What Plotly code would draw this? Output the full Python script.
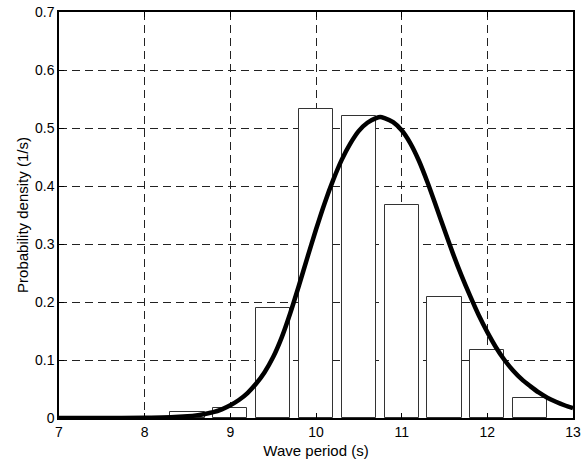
import plotly.graph_objects as go

# Histogram bars (bin centres, density)
bar_centers = [8.5, 9.0, 9.5, 10.0, 10.5, 11.0, 11.5, 12.0, 12.5]
bar_density = [0.010, 0.017, 0.190, 0.533, 0.520, 0.367, 0.208, 0.118, 0.034]
bar_width = 0.4

# Fitted density curve
curve_t = [7.0, 7.5, 8.0, 8.2, 8.4, 8.5, 8.6, 8.7, 8.8, 8.9, 9.0, 9.1, 9.2, 9.3,
           9.4, 9.5, 9.6, 9.7, 9.8, 9.9, 10.0, 10.1, 10.2, 10.3, 10.4, 10.5,
           10.6, 10.7, 10.75, 10.8, 10.9, 11.0, 11.1, 11.2, 11.3, 11.4, 11.5,
           11.6, 11.7, 11.8, 11.9, 12.0, 12.1, 12.2, 12.3, 12.4, 12.5, 12.6,
           12.7, 12.8, 12.9, 13.0]
curve_p = [0.0, 0.0001, 0.0003, 0.0008, 0.002, 0.003, 0.0045, 0.007, 0.010,
           0.015, 0.022, 0.031, 0.043, 0.059, 0.079, 0.105, 0.139, 0.181, 0.228,
           0.277, 0.325, 0.370, 0.410, 0.445, 0.473, 0.495, 0.509, 0.517, 0.519,
           0.517, 0.510, 0.496, 0.474, 0.444, 0.407, 0.366, 0.324, 0.283, 0.245,
           0.210, 0.177, 0.148, 0.122, 0.100, 0.082, 0.067, 0.055, 0.044, 0.035,
           0.028, 0.022, 0.017]

x_ticks = [7, 8, 9, 10, 11, 12, 13]
y_ticks = [0, 0.1, 0.2, 0.3, 0.4, 0.5, 0.6, 0.7]
y_labels = ["0", "0.1", "0.2", "0.3", "0.4", "0.5", "0.6", "0.7"]

fig = go.Figure()
fig.add_trace(go.Bar(x=bar_centers, y=bar_density, width=bar_width,
                     marker=dict(color="white", line=dict(color="#333333", width=1)),
                     showlegend=False))
fig.add_trace(go.Scatter(x=curve_t, y=curve_p, mode="lines",
                         line=dict(color="black", width=4.5, shape="spline", smoothing=0.8),
                         showlegend=False))

axis_common = dict(showline=True, linecolor="black", linewidth=1.5, mirror="ticks",
                   ticks="inside", ticklen=5, tickcolor="black",
                   showgrid=True, gridcolor="#222222", gridwidth=1, griddash="8px,5px",
                   zeroline=False, automargin=False,
                   tickfont=dict(family="Liberation Sans, Arial", size=14, color="black"))

fig.update_xaxes(range=[7, 13], tickvals=x_ticks, ticktext=[str(v) for v in x_ticks],
                 title=dict(text="Wave period (s)", standoff=7,
                            font=dict(family="Liberation Sans, Arial", size=15, color="black")),
                 **axis_common)
fig.update_yaxes(range=[0, 0.7], tickvals=y_ticks, ticktext=y_labels,
                 title=dict(text="Probability density (1/s)", standoff=3,
                            font=dict(family="Liberation Sans, Arial", size=15, color="black")),
                 **axis_common)

fig.update_layout(width=583, height=464, margin=dict(l=59, r=10, t=12, b=46),
                  paper_bgcolor="white", plot_bgcolor="white", bargap=0)

fig.write_html("out.html")
